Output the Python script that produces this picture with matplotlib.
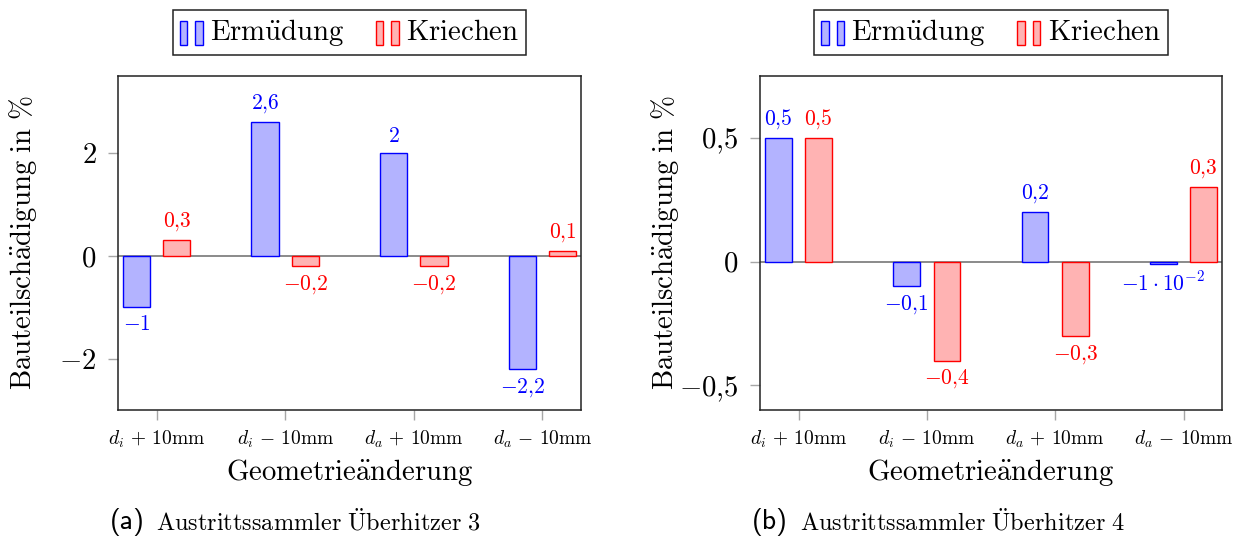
import matplotlib
matplotlib.use("Agg")
import matplotlib.pyplot as plt
from matplotlib.patches import Rectangle
from matplotlib.legend_handler import HandlerBase
import numpy as np

# ---------------- data ----------------
categories = [r"$d_i \,+\, 10\mathrm{mm}$", r"$d_i \,-\, 10\mathrm{mm}$",
              r"$d_a \,+\, 10\mathrm{mm}$", r"$d_a \,-\, 10\mathrm{mm}$"]
series_names = ["Ermüdung", "Kriechen"]

ermuedung_a = [-1, 2.6, 2, -2.2]
kriechen_a = [0.3, -0.2, -0.2, 0.1]
ermuedung_b = [0.5, -0.1, 0.2, -0.01]
kriechen_b = [0.5, -0.4, -0.3, 0.3]

yticks_a = [-2, 0, 2]
yticks_b = [-0.5, 0, 0.5]
ylim_a = (-3, 3.5)
ylim_b = (-0.6, 0.75)

xlabel = "Geometrieänderung"
ylabel = "Bauteilschädigung in %"
captions = [("(a)", "Austrittssammler Überhitzer 3"),
            ("(b)", "Austrittssammler Überhitzer 4")]

# ---------------- style ----------------
plt.rcParams['mathtext.fontset'] = 'cm'
plt.rcParams['font.family'] = ['cmr10', 'DejaVu Serif']
plt.rcParams['axes.unicode_minus'] = False

BLUE_FC = (0.7, 0.7, 1.0)
RED_FC = (1.0, 0.7, 0.7)
BLUE_EC = (0, 0, 1)
RED_EC = (1, 0, 0)
FS = 20.7


def tex(s):
    """Render plain text in Computer Modern via mathtext."""
    rep = {'ä': r'\ddot{a}', 'ü': r'\ddot{u}', 'Ü': r'\ddot{U}',
           ' ': r'\ ', '%': r'\%'}
    return r"$\mathrm{" + "".join(rep.get(c, c) for c in s) + "}$"


def fmt_num(v):
    if v == 0:
        return r"$0$"
    if abs(v) < 0.05:
        e = int(np.floor(np.log10(abs(v))))
        m = v / 10 ** e
        return r"$%d\cdot 10^{%d}$" % (round(m), e)
    s = ("%g" % v).replace(".", "{,}")
    return "$" + s + "$"


class TwoBars(HandlerBase):
    def create_artists(self, legend, orig_handle, xdescent, ydescent,
                       width, height, fontsize, trans):
        fc = orig_handle.get_facecolor()
        ec = orig_handle.get_edgecolor()
        bw = width * 0.33
        h = height * 1.15
        y0 = -ydescent - 0.22 * height
        r1 = Rectangle((-xdescent, y0), bw, h, facecolor=fc, edgecolor=ec,
                       lw=1.0, transform=trans)
        r2 = Rectangle((-xdescent + width - bw, y0), bw, h, facecolor=fc,
                       edgecolor=ec, lw=1.0, transform=trans)
        return [r1, r2]


W, H = 1244, 536
fig = plt.figure(figsize=(W / 100, H / 100), dpi=100)
ax_a = fig.add_axes([118 / W, 1 - 410 / H, 463 / W, 334 / H])
ax_b = fig.add_axes([760 / W, 1 - 410 / H, 462 / W, 334 / H])

panels = [(ax_a, ermuedung_a, kriechen_a, yticks_a, ylim_a),
          (ax_b, ermuedung_b, kriechen_b, yticks_b, ylim_b)]

x = np.arange(len(categories))
width = 0.21
offset = 0.157

for ax, erm, kri, yt, yl in panels:
    ax.axhline(0, color=(0.42, 0.42, 0.42), lw=1.1, zorder=1)
    b1 = ax.bar(x - offset, erm, width, facecolor=BLUE_FC, edgecolor=BLUE_EC,
                lw=1.0, zorder=2)
    b2 = ax.bar(x + offset, kri, width, facecolor=RED_FC, edgecolor=RED_EC,
                lw=1.0, zorder=2)
    for bars, vals, col in ((b1, erm, BLUE_EC), (b2, kri, RED_EC)):
        for rect, v in zip(bars, vals):
            cx = rect.get_x() + rect.get_width() / 2
            if v >= 0:
                ax.annotate(fmt_num(v), (cx, v), xytext=(0, 5),
                            textcoords='offset points', ha='center',
                            va='bottom', color=col, fontsize=15.5)
            else:
                ax.annotate(fmt_num(v), (cx, v), xytext=(0, -5),
                            textcoords='offset points', ha='center',
                            va='top', color=col, fontsize=15.5)
    ax.set_xlim(-0.3, 3.3)
    ax.set_ylim(*yl)
    ax.set_xticks(x)
    ax.set_xticklabels(categories, fontsize=14)
    ax.set_yticks(yt)
    ax.set_yticklabels([fmt_num(v) for v in yt], fontsize=FS)
    ax.tick_params(axis='both', color=(0.65, 0.65, 0.65), length=7.5,
                   width=1.0, direction='out')
    ax.tick_params(axis='x', pad=6)
    ax.tick_params(axis='y', pad=8)
    for sp in ax.spines.values():
        sp.set_color('#222222')
        sp.set_linewidth(1.1)
    ax.set_xlabel(tex(xlabel), fontsize=FS, labelpad=5)
    ax.set_ylabel(tex(ylabel), fontsize=FS)
    ax.yaxis.set_label_coords(-0.17, 0.5)
    leg = ax.legend(handles=[b1.patches[0], b2.patches[0]],
                    labels=[tex(s) for s in series_names], loc='center',
                    bbox_to_anchor=(0.5, 1.13), ncol=2, fontsize=FS,
                    frameon=True, fancybox=False, framealpha=1,
                    edgecolor='#222222', handlelength=0.8,
                    handleheight=0.75, handletextpad=0.25,
                    columnspacing=1.1, borderpad=0.25,
                    handler_map={Rectangle: TwoBars()})
    leg.get_frame().set_linewidth(1.1)

# captions
cap_pos = [(110, 156.5), (752, 800)]
for (tag, text), (xt, xm) in zip(captions, cap_pos):
    fig.text(xt / W, 1 - 522 / H, tag, ha='left', va='center',
             fontsize=20, family=['cmss10', 'DejaVu Sans'])
    fig.text(xm / W, 1 - 522 / H, tex(text), ha='left', va='center',
             fontsize=17.5)

fig.savefig("out.png", dpi=100)
